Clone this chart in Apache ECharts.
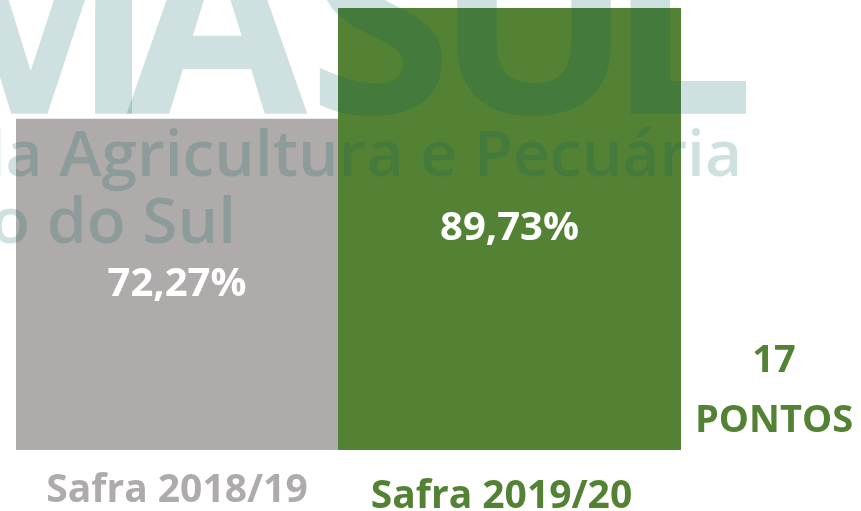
<!DOCTYPE html>
<html lang="pt">

<head>
    <meta charset="UTF-8" />
    <title>Safra</title>
    <script src="https://cdn.jsdelivr.net/npm/echarts@6/dist/echarts.min.js"></script>
    <style>
        html, body { margin: 0; padding: 0; background: #fff; }
        #chart { width: 861px; height: 511px; }
    </style>
</head>

<body>
    <div id="chart"></div>

    <script type="text/javascript">
        // data
        let categories = ["Safra 2018/19", "Safra 2019/20"];
        let values = [72.27, 89.73];
        let barColors = ["#AFABAB", "#548235"];
        let noteLines = ["17", "PONTOS"];

        // watermark (logo behind the chart), drawn letter by letter because it is tightly spaced
        let markBig = ["F", "A", "M", "A", "S", "U", "L"];
        let markBigX = [-330, -165, 32, 217, 380, 534, 607];
        let markLine1 = "Federação da Agricultura e Pecuária";
        let markLine2 = "de Mato Grosso do Sul";
        let markColor = "rgba(0, 88, 88, 0.19)";

        // the two bars are not the same width in the picture: one grid each
        let grids = [
            { left: 16, right: 523, top: 0, bottom: 61, outerBoundsMode: "none" },
            { left: 338, right: 180, top: 0, bottom: 61, outerBoundsMode: "none" },
        ];
        let labelPads = [[0, 0, 0, 0], [6, 16, 0, 0]];

        let myChart = echarts.init(document.getElementById("chart"), null, { renderer: "canvas" });

        let xAxes = categories.map((c, i) => ({
            type: "category",
            gridIndex: i,
            data: [{ value: c, textStyle: { color: barColors[i], padding: labelPads[i] } }],
            axisLine: { show: false },
            axisTick: { show: false },
            axisLabel: {
                interval: 0,
                margin: 21,
                fontFamily: "Open Sans",
                fontWeight: "bold",
                fontSize: 39
            }
        }));

        let yAxes = categories.map((c, i) => ({
            type: "value",
            gridIndex: i,
            min: 20,
            max: 91,
            show: false,
            splitLine: { show: false }
        }));

        let series = values.map((v, i) => ({
            type: "bar",
            xAxisIndex: i,
            yAxisIndex: i,
            barCategoryGap: "0%",
            itemStyle: { color: barColors[i] },
            data: [v],
            label: {
                show: true,
                position: "inside",
                color: "#fff",
                fontFamily: "Open Sans",
                fontWeight: "bold",
                fontSize: 40,
                formatter: (p) => p.value.toFixed(2).replace(".", ",") + "%"
            }
        }));

        let graphic = markBig.map((ch, i) => ({
            type: "text", z: 100, silent: true,
            style: {
                text: ch, x: markBigX[i], y: 39,
                textAlign: i == markBig.length - 1 ? "left" : "center",
                textVerticalAlign: "middle",
                fill: markColor, fontFamily: "Open Sans", fontWeight: "bold", fontSize: 262
            }
        }));

        graphic.push(
            {
                type: "text", z: 100, silent: true,
                style: {
                    text: markLine1, x: 742, y: 158,
                    textAlign: "right", textVerticalAlign: "middle",
                    fill: markColor, fontFamily: "Open Sans", fontWeight: 600, fontSize: 64
                }
            },
            {
                type: "text", z: 100, silent: true,
                style: {
                    text: markLine2, x: 236, y: 225,
                    textAlign: "right", textVerticalAlign: "middle",
                    fill: markColor, fontFamily: "Open Sans", fontWeight: 600, fontSize: 64
                }
            },
            {
                type: "text", z: 100, silent: true,
                style: {
                    text: noteLines.join("\n"), x: 774, y: 391,
                    textAlign: "center", textVerticalAlign: "middle",
                    lineHeight: 60,
                    fill: "#548235", fontFamily: "Open Sans", fontWeight: "bold", fontSize: 38
                }
            }
        );

        let option = {
            backgroundColor: "#fff",
            animation: false,
            grid: grids,
            xAxis: xAxes,
            yAxis: yAxes,
            series: series,
            graphic: graphic
        };

        myChart.setOption(option);
    </script>
</body>

</html>
